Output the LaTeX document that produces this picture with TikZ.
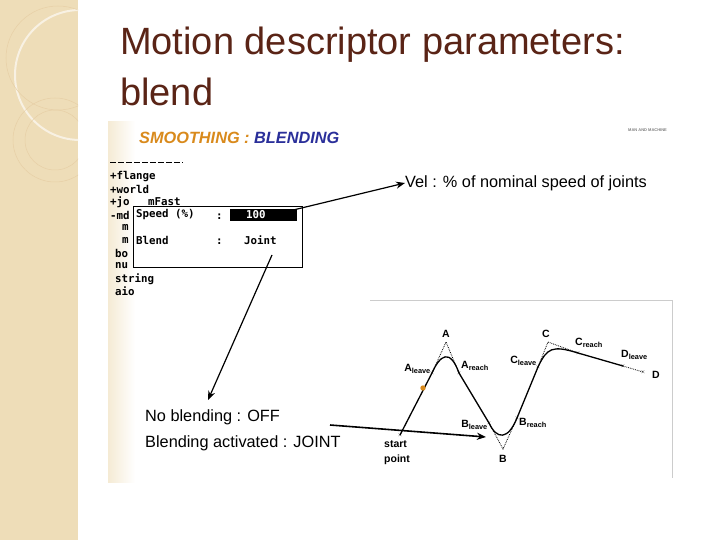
\documentclass[tikz,border=0pt]{standalone}
\usepackage{fontspec}
\setmainfont{Liberation Sans}
\newfontfamily\monof{DejaVu Sans Mono}
\usetikzlibrary{arrows.meta}
\definecolor{beige}{HTML}{EEDDB8}
\definecolor{titlec}{HTML}{5A2416}
\definecolor{orng}{HTML}{D98A1C}
\definecolor{bluec}{HTML}{2A2F9A}
\begin{document}
\begin{tikzpicture}[x=1pt,y=-1pt,
  term/.style={anchor=west,inner sep=0pt,font=\monof\bfseries\fontsize{10.8}{11}\selectfont},
  lab/.style={inner sep=0pt,font=\bfseries\fontsize{10.5}{11}\selectfont},
  captext/.style={anchor=west,inner sep=0pt,font=\fontsize{16.3}{18}\selectfont},
  xm/.style={inner sep=0pt,font=\fontsize{5}{5}\selectfont},
  pointer/.style={line width=1.2pt,-{Stealth[length=9pt,width=7pt]}}]
\useasboundingbox (0,0) rectangle (720,540);
\fill[white] (0,0) rectangle (720,540);
% left strip
\fill[beige] (0,0) rectangle (78,540);
\begin{scope}
\clip (0,0) rectangle (78,540);
\draw[white!60!beige,line width=2pt] (80,75) circle (65);
\draw[beige!85!brown,line width=0.5pt] (58,58) circle (52);
\draw[beige!85!brown,line width=0.5pt] (55,140) circle (42);
\draw[beige!85!brown,line width=0.5pt] (55,140) circle (30);
\end{scope}
% title
\node[anchor=west,inner sep=0pt,text=titlec,font=\fontsize{38}{40}\selectfont] (t1) at (120,45) {Motion descriptor parameters:};
\node[anchor=west,inner sep=0pt,text=titlec,font=\fontsize{38}{40}\selectfont] (t2) at (120,92) {blend};
% image region
\shade[left color=beige!60,right color=white] (108,122) rectangle (135,482);
\node[anchor=west,inner sep=0pt,font=\bfseries\itshape\fontsize{16.3}{18}\selectfont] (sm) at (139,138) {\textcolor{orng}{SMOOTHING :} \textcolor{bluec}{BLENDING}};
\node[anchor=west,inner sep=0pt,font=\bfseries\fontsize{4}{5}\selectfont,text=gray] (mm) at (628,130) {MAN AND MACHINE};
% terminal
\draw[line width=1pt,dash pattern=on 6pt off 2pt] (110,163) -- (183,163);
\node[term] (l1) at (110,177) {+flange};
\node[term] (l2) at (110,189) {+world};
\node[term] (l3) at (110,202) {+jo};
\node[term] (l4) at (110,215) {-md};
\node[term] (l5) at (122,227) {m};
\node[term] (l6) at (122,240) {m};
\node[term] (l7) at (115,253) {bo};
\node[term] (l8) at (115,266) {nu};
\node[term] (l9) at (115,279) {string};
\node[term] (l10) at (115,291) {aio};
\draw[line width=1pt,fill=white] (133,207) rectangle (302,267);
\node[term,fill=white,inner xsep=1pt] (mf) at (147,202) {mFast};
\node[term] (sp) at (136,215) {Speed (\%)};
\node[term] (c1) at (216,217) {:};
\fill[black] (230,209) rectangle (297,221);
\node[term,text=white] (v100) at (246,215) {100};
\node[term] (bl) at (136,240) {Blend};
\node[term] (c2) at (216,242) {:};
\node[term] (jt) at (244,240) {Joint};
% captions
\node[captext] (vel) at (405,183) {Vel : \% of nominal speed of joints};
\node[captext] (nob) at (145,417) {No blending : OFF};
\node[captext] (bla) at (145,443) {Blending activated : JOINT};
% graph panel
\draw[gray!40] (370,300) -- (672,300) -- (672,478);
\coordinate (S) at (400,435);
\coordinate (Al) at (432,373);
\coordinate (Aa) at (446,342);
\coordinate (Ar) at (459,373);
\coordinate (Bl) at (489,423);
\coordinate (Ba) at (503,449);
\coordinate (Br) at (517,418);
\coordinate (Cl) at (538,367);
\coordinate (Ca) at (548,342);
\coordinate (Cr) at (578,353);
\coordinate (Dl) at (623,366);
\coordinate (Da) at (643,372);
\draw[line width=1.3pt] (S) -- (Al) .. controls (440,355) and (450,348) .. (Ar) -- (Bl) .. controls (497,440) and (508,440) .. (Br) -- (Cl) .. controls (547,348) and (552,345) .. (Cr) -- (Dl);
\draw[densely dotted,line width=0.8pt] (Al) -- (Aa) -- (Ar) (Bl) -- (Ba) -- (Br) (Cl) -- (Ca) -- (Cr) (Dl) -- (Da);
\foreach \p in {S,Al,Ar,Bl,Br,Cl,Cr,Dl,Da} \node[xm] at (\p) {$\times$};
\fill[orng] (423,388) circle (2.7);
\node[lab] (LA) at (446,334) {A};
\node[lab,anchor=east] (LAl) at (431,369) {A\textsubscript{leave}};
\node[lab,anchor=west] (LAr) at (461,366) {A\textsubscript{reach}};
\node[lab,anchor=east] (LBl) at (488,425) {B\textsubscript{leave}};
\node[lab,anchor=west] (LBr) at (519,423) {B\textsubscript{reach}};
\node[lab] (LB) at (503,459) {B};
\node[lab,anchor=east] (LCl) at (537,361) {C\textsubscript{leave}};
\node[lab] (LC) at (546,334) {C};
\node[lab,anchor=west] (LCr) at (575,343) {C\textsubscript{reach}};
\node[lab,anchor=west] (LDl) at (621,355) {D\textsubscript{leave}};
\node[lab] (LD) at (656,375) {D};
\node[lab,align=left,anchor=north west,font=\bfseries\fontsize{10.5}{15}\selectfont] (sp2) at (384,440) {start\\point};
% pointers
\coordinate (p1) at (285,212);
\draw[pointer] (p1) -- (vel.west);
\coordinate (p2) at (272,255);
\draw[pointer] (p2) -- (208,400);
\coordinate (p3) at (330,425);
\coordinate (p4) at (486,437);
\draw[pointer,line width=1.6pt] (p3) -- (p4);
\end{tikzpicture}
\end{document}
